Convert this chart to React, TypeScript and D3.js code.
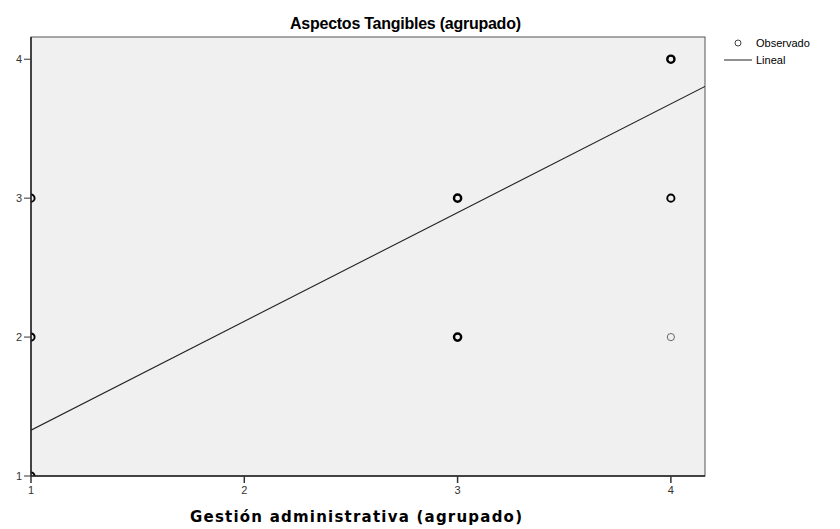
import React from "react";
import * as d3 from "d3";

// observed cases (x = Gestión administrativa, y = Aspectos Tangibles)
const obsX = [1, 1, 1, 3, 3, 4, 4, 4];
const obsY = [1, 2, 3, 2, 3, 2, 3, 4];
// rough overlap count, drives how bold the marker looks
const obsCount = [3, 4, 4, 6, 6, 1, 3, 5];

// fitted linear model
const fitIntercept = 0.547;
const fitSlope = 0.783;

const xTicks = [1, 2, 3, 4];
const yTicks = [1, 2, 3, 4];

const W = 840;
const H = 529;

const App = () => {
  const margin = { top: 37, left: 31, right: 135, bottom: 53 };
  const plotW = W - margin.left - margin.right;
  const plotH = H - margin.top - margin.bottom;

  const x = d3.scaleLinear().domain([1, 4.16]).range([0, plotW]);
  const y = d3.scaleLinear().domain([1, 4.16]).range([plotH, 0]);

  const fitLine = d3
    .line<number>()
    .x((d) => x(d))
    .y((d) => y(fitIntercept + fitSlope * d));

  const font = "'Liberation Sans', Arial, sans-serif";

  return (
    <svg
      width={W}
      height={H}
      style={{ position: "absolute", left: 0, top: 0, background: "#fff" }}
      fontFamily={font}
    >
      <defs>
        <clipPath id="plotclip">
          <rect x={0} y={0} width={plotW} height={plotH} />
        </clipPath>
      </defs>
      <text
        x={290}
        y={29}
        fontSize={16}
        fontWeight="bold"
        textLength={231}
        lengthAdjust="spacing"
      >
        Aspectos Tangibles (agrupado)
      </text>
      <g transform={`translate(${margin.left},${margin.top})`}>
        <rect
          x={0}
          y={0}
          width={plotW}
          height={plotH}
          fill="#f0f0f0"
          stroke="#555"
          strokeWidth={1}
        />
        <g clipPath="url(#plotclip)">
          <path
            d={fitLine([1, 4.16]) || ""}
            fill="none"
            stroke="#222"
            strokeWidth={1.1}
          />
          {obsX.map((d, i) => (
            <circle
              key={i}
              cx={x(d)}
              cy={y(obsY[i])}
              r={3.6}
              fill="none"
              stroke={obsCount[i] > 1 ? "#000" : "#666"}
              strokeWidth={obsCount[i] > 4 ? 2.4 : obsCount[i] > 1 ? 1.9 : 1}
            />
          ))}
        </g>
        {/* axes */}
        <line x1={0} y1={0} x2={0} y2={plotH} stroke="#222" strokeWidth={1.5} />
        <line x1={0} y1={plotH} x2={plotW} y2={plotH} stroke="#222" strokeWidth={1.5} />
        {yTicks.map((t) => (
          <g key={"y" + t} transform={`translate(0,${y(t)})`}>
            <line x1={-7} x2={0} stroke="#333" strokeWidth={1} />
            <text x={-9} dy="0.35em" textAnchor="end" fontSize={11} fill="#333">
              {t}
            </text>
          </g>
        ))}
        {xTicks.map((t) => (
          <g key={"x" + t} transform={`translate(${x(t)},${plotH})`}>
            <line y1={0} y2={7} stroke="#333" strokeWidth={1.5} />
            <text y={18} textAnchor="middle" fontSize={11} fill="#333">
              {t}
            </text>
          </g>
        ))}
      </g>
      <text
        x={190}
        y={522}
        fontSize={15}
        fontWeight="bold"
        fontFamily="'DejaVu Sans', Verdana, sans-serif"
        textLength={332}
        lengthAdjust="spacing"
      >
        Gestión administrativa (agrupado)
      </text>
      {/* legend */}
      <g fontSize={11}>
        <circle cx={738} cy={43} r={3} fill="none" stroke="#444" strokeWidth={1} />
        <text x={756} y={47}>Observado</text>
        <line x1={724} x2={752} y1={60} y2={60} stroke="#222" strokeWidth={1} />
        <text x={756} y={64}>Lineal</text>
      </g>
    </svg>
  );
};

export default App;
